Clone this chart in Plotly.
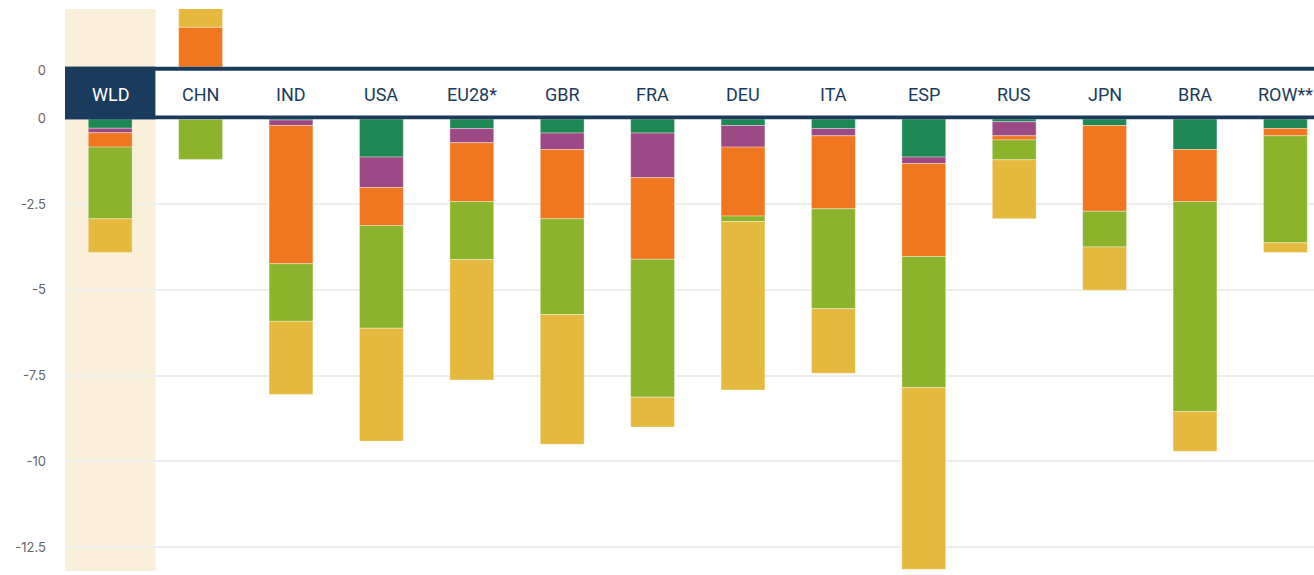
import plotly.graph_objects as go

categories = ["WLD", "CHN", "IND", "USA", "EU28*", "GBR", "FRA", "DEU", "ITA", "ESP", "RUS", "JPN", "BRA", "ROW**"]

# negative contributions, stacked downward from zero (top to bottom)
s_darkgreen = [-0.29, -0.03, -0.05, -1.13, -0.30, -0.43, -0.43, -0.21, -0.30, -1.13, -0.10, -0.21, -0.91, -0.30]
s_purple    = [-0.13, 0.0, -0.16, -0.89, -0.41, -0.48, -1.30, -0.63, -0.21, -0.19, -0.41, 0.0, 0.0, 0.0]
s_orange    = [-0.42, 0.0, -4.03, -1.11, -1.72, -2.02, -2.38, -2.01, -2.13, -2.71, -0.12, -2.50, -1.52, -0.21]
s_lime      = [-2.09, -1.17, -1.68, -2.99, -1.69, -2.79, -4.02, -0.16, -2.91, -3.82, -0.58, -1.04, -6.12, -3.12]
s_yellow    = [-0.98, 0.0, -2.13, -3.29, -3.51, -3.78, -0.87, -4.91, -1.88, -5.30, -1.72, -1.26, -1.16, -0.28]

# positive contributions (upper panel)
pos_orange = [0, 1.25, 0, 0, 0, 0, 0, 0, 0, 0, 0, 0, 0, 0]
pos_yellow = [0, 0.70, 0, 0, 0, 0, 0, 0, 0, 0, 0, 0, 0, 0]

neg_ticks = [0, -2.5, -5, -7.5, -10, -12.5]
neg_ticktext = ["0", "-2.5", "-5", "-7.5", "-10", "-12.5"]

C_DG = "#1F8754"
C_PU = "#9C4A86"
C_OR = "#F07620"
C_LI = "#8BB32C"
C_YE = "#E5B93E"
NAVY = "#1B3B5C"

W, H = 1314, 575
ML, MR, MT, MB = 65, 0, 9, 4
plot_h = H - MT - MB
plot_w = W - ML - MR
def py(p):
    # page pixel y -> paper fraction
    return (H - MB - p) / plot_h

fig = go.Figure()
x_idx = list(range(len(categories)))
BW = 0.485
line = dict(color="rgba(255,255,255,0.35)", width=1)

for vals, col in [(s_darkgreen, C_DG), (s_purple, C_PU), (s_orange, C_OR), (s_lime, C_LI), (s_yellow, C_YE)]:
    fig.add_trace(go.Bar(x=x_idx, y=vals, marker=dict(color=col, line=line), width=BW,
                         xaxis="x", yaxis="y", showlegend=False, hoverinfo="skip"))
for vals, col in [(pos_orange, C_OR), (pos_yellow, C_YE)]:
    fig.add_trace(go.Bar(x=x_idx, y=vals, marker=dict(color=col, line=line), width=BW,
                         xaxis="x", yaxis="y2", showlegend=False, hoverinfo="skip"))

scale = 34.3
bot_top = 118.3
y_bottom_val = -(H - MB - bot_top) / scale
top_zero = 70.0
y2_top = (top_zero - MT) / scale
spacing = 90.4
x_max = -0.5 + plot_w / spacing

band_top, band_bot = 66.7, 119.3
shapes = [
    # WLD highlight
    dict(type="rect", xref="x", yref="paper", x0=-0.5, x1=0.5, y0=0, y1=1,
         fillcolor="#FAF0DA", line=dict(width=0), layer="below"),
    # header band
    dict(type="rect", xref="paper", yref="paper", x0=0, x1=1, y0=py(band_bot), y1=py(band_top),
         fillcolor="white", line=dict(width=0), layer="above"),
    dict(type="rect", xref="paper", yref="paper", x0=0, x1=1, y0=py(band_top + 4), y1=py(band_top),
         fillcolor=NAVY, line=dict(width=0), layer="above"),
    dict(type="rect", xref="paper", yref="paper", x0=0, x1=1, y0=py(band_bot), y1=py(band_bot - 3.8),
         fillcolor=NAVY, line=dict(width=0), layer="above"),
    dict(type="rect", xref="x", yref="paper", x0=-0.5, x1=0.5, y0=py(band_bot), y1=py(band_top),
         fillcolor=NAVY, line=dict(width=0), layer="above"),
]

annotations = []
for i, c in enumerate(categories):
    annotations.append(dict(x=i, y=py(95), xref="x", yref="paper", text=c, showarrow=False,
                            font=dict(family="Roboto", size=18, color="white" if i == 0 else NAVY),
                            xanchor="center", yanchor="middle"))

fig.update_layout(
    width=W, height=H,
    margin=dict(l=ML, r=MR, t=MT, b=MB, autoexpand=False),
    paper_bgcolor="white", plot_bgcolor="rgba(0,0,0,0)",
    barmode="relative", bargap=0.5,
    showlegend=False,
    shapes=shapes, annotations=annotations,
    xaxis=dict(range=[-0.5, x_max], showticklabels=False, showgrid=False, zeroline=False,
               showline=False, ticks="", anchor="y", fixedrange=True, automargin=False),
    yaxis=dict(domain=[0, py(bot_top)], range=[y_bottom_val, 0], tickvals=neg_ticks, ticktext=neg_ticktext,
               showgrid=True, gridcolor="#EEEEEE", gridwidth=2, zeroline=False, showline=False,
               tickfont=dict(family="Inter", size=13, color="#666666"), ticklabelstandoff=18,
               anchor="x", automargin=False),
    yaxis2=dict(domain=[py(top_zero), 1], range=[0, y2_top], tickvals=[0], ticktext=["0"],
                showgrid=False, zeroline=False, showline=False,
                tickfont=dict(family="Inter", size=13, color="#666666"), ticklabelstandoff=18,
                anchor="x", automargin=False),
)

fig.write_html("out.html", config={"displayModeBar": False},
               post_script="document.body.style.margin='0';document.body.style.overflow='hidden';")
